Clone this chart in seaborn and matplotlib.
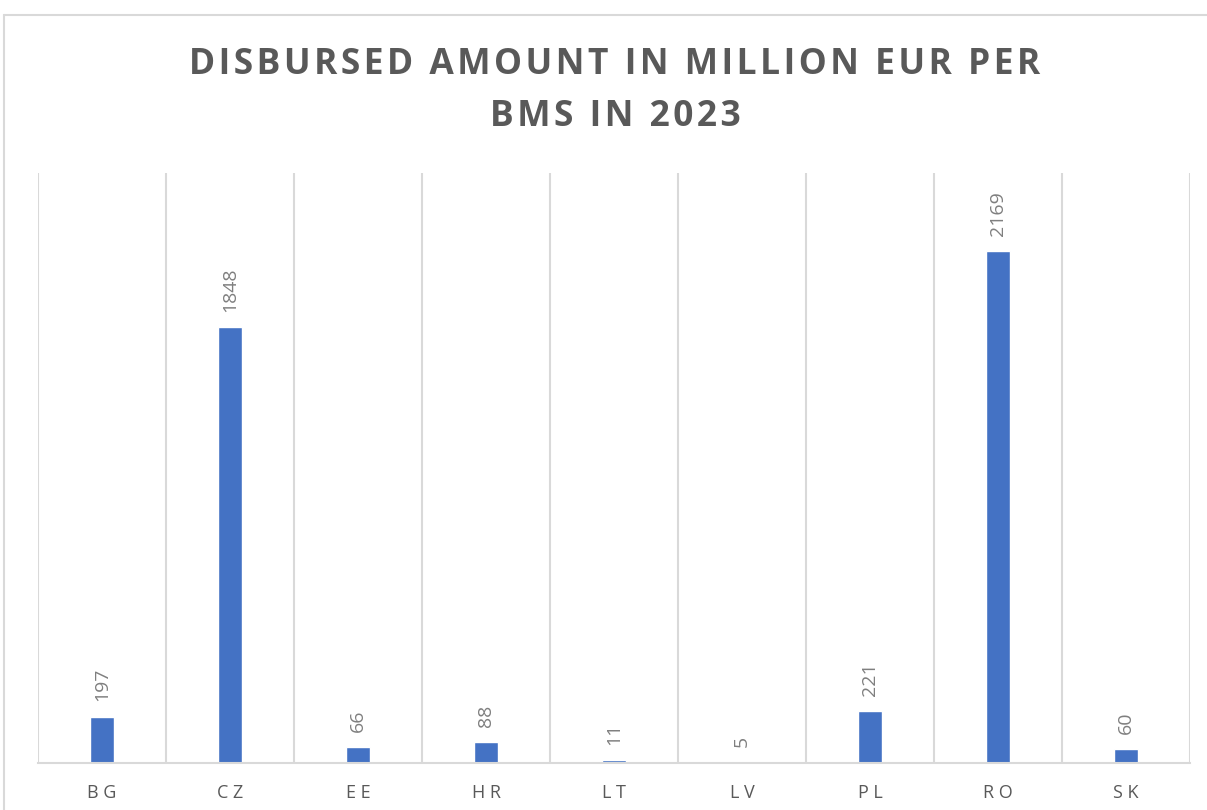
import matplotlib
matplotlib.use("Agg")
import matplotlib.pyplot as plt
import seaborn as sns
import pandas as pd
from matplotlib.lines import Line2D

# --- Data ---
countries = ["BG", "CZ", "EE", "HR", "LT", "LV", "PL", "RO", "SK"]
amounts = [197, 1848, 66, 88, 11, 5, 221, 2169, 60]
title_lines = ["DISBURSED AMOUNT IN MILLION EUR PER", "BMS IN 2023"]

df = pd.DataFrame({"country": countries, "amount": amounts})

sns.set_theme(style="white")
plt.rcParams["font.family"] = ["Open Sans", "DejaVu Sans"]

grid_col = "#D9D9D9"
text_col = "#595959"
HAIR = "\u200a"

fig = plt.figure(figsize=(12.07, 8.10), dpi=100)
ax = fig.add_axes([38 / 1207, 47 / 810, 1152 / 1207, 590 / 810])

sns.barplot(data=df, x="country", y="amount", color="#4472C4", width=0.18,
            saturation=1, ax=ax)

# value labels, rotated like the original
for i, v in enumerate(amounts):
    ax.annotate(str(v), (i, v), xytext=(0, 11), textcoords="offset points",
                rotation=90, ha="center", va="bottom", fontsize=14, color="#7F7F7F")

ax.set_xlim(-0.5, len(countries) - 0.5)
ax.set_ylim(0, 2500)
ax.set_yticks([])
ax.set_xlabel("")
ax.set_ylabel("")

# gridlines between categories
ax.set_xticks([i - 0.5 for i in range(len(countries) + 1)], minor=True)
ax.grid(which="minor", axis="x", color=grid_col, linewidth=1.5)
ax.tick_params(axis="x", which="both", length=0, pad=15)
ax.set_xticks(range(len(countries)))
ax.set_xticklabels([" ".join(c) for c in countries], fontsize=13, color=text_col)

for side in ["top", "left", "right"]:
    ax.spines[side].set_visible(False)
ax.spines["bottom"].set_color(grid_col)
ax.spines["bottom"].set_linewidth(1.5)

# chart title, letter-spaced
for k, line in enumerate(title_lines):
    fig.text(615 / 1207, 1 - (65 + 52 * k) / 810, HAIR.join(line), ha="center", va="center",
             fontsize=25.5, fontweight="bold", color=text_col)

# outer chart frame
fig.add_artist(Line2D([4 / 1207, 1.0], [1 - 15 / 810, 1 - 15 / 810], color=grid_col, linewidth=1.5))
fig.add_artist(Line2D([4 / 1207, 4 / 1207], [0.0, 1 - 15 / 810], color=grid_col, linewidth=1.5))

fig.savefig("out.png", dpi=100, facecolor="white")
